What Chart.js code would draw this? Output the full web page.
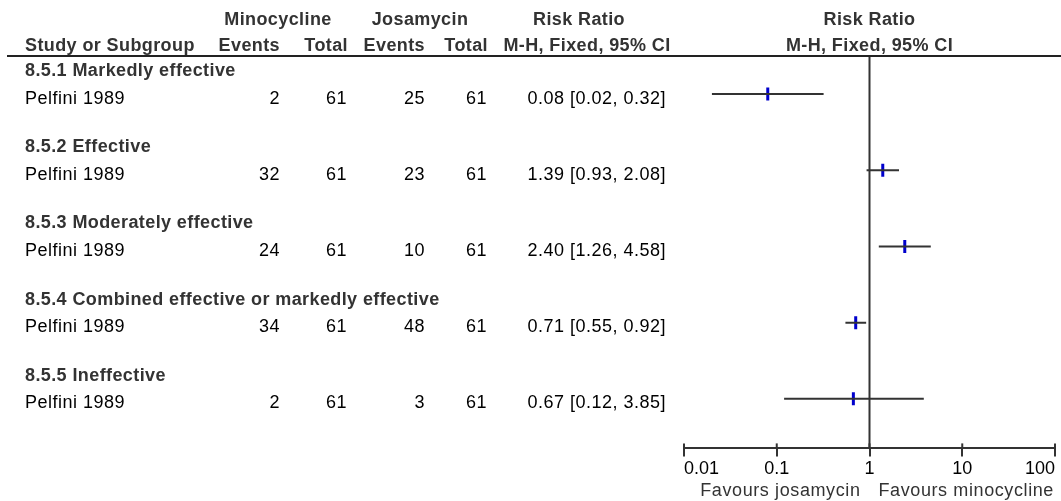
<!DOCTYPE html>
<html>
<head>
<meta charset="utf-8">
<script src="https://cdn.jsdelivr.net/npm/chart.js@4.4.1/dist/chart.umd.min.js"></script>
<style>
  body { margin: 0; background: #fff; }
  #wrap { width: 1061px; height: 501px; position: relative; }
</style>
</head>
<body>
<div id="wrap"><canvas id="forest"></canvas></div>
<script>
const groups = [
  "8.5.1 Markedly effective",
  "8.5.2 Effective",
  "8.5.3 Moderately effective",
  "8.5.4 Combined effective or markedly effective",
  "8.5.5 Ineffective",
];
const studies = ["Pelfini 1989", "Pelfini 1989", "Pelfini 1989", "Pelfini 1989", "Pelfini 1989"];
const minoEvents = [2, 32, 24, 34, 2];
const minoTotal = [61, 61, 61, 61, 61];
const josaEvents = [25, 23, 10, 48, 3];
const josaTotal = [61, 61, 61, 61, 61];
const riskRatio = [0.08, 1.39, 2.40, 0.71, 0.67];
const ciLow = [0.02, 0.93, 1.26, 0.55, 0.12];
const ciHigh = [0.32, 2.08, 4.58, 0.92, 3.85];
const tickValues = [0.01, 0.1, 1, 10, 100];
const tickLabels = ["0.01", "0.1", "1", "10", "100"];

const FONT = '"Liberation Sans", Arial, sans-serif';
const HEAD = "#333";

// one line dataset per confidence interval
const ciSets = riskRatio.map((_, i) => ({
  type: "line",
  data: [{ x: ciLow[i], y: i }, { x: ciHigh[i], y: i }],
  borderColor: "#333",
  borderWidth: 2,
  pointRadius: 0,
  fill: false,
}));

const tablePlugin = {
  id: "forestTable",
  beforeDatasetsDraw(chart) {
    const { ctx, chartArea, scales } = chart;
    const x1 = scales.x.getPixelForValue(1);
    ctx.save();
    ctx.strokeStyle = "#333";
    ctx.lineWidth = 2;
    ctx.beginPath();
    ctx.moveTo(x1, chartArea.top);
    ctx.lineTo(x1, chartArea.bottom);
    ctx.stroke();
    // upper half of the axis ticks
    tickValues.forEach((v) => {
      const px = scales.x.getPixelForValue(v);
      ctx.beginPath();
      ctx.moveTo(px, chartArea.bottom - 5);
      ctx.lineTo(px, chartArea.bottom);
      ctx.stroke();
    });
    ctx.restore();
  },
  afterDraw(chart) {
    const { ctx, chartArea, scales } = chart;
    const top = chartArea.top;
    ctx.save();

    // column headers
    ctx.font = "bold 18px " + FONT;
    ctx.letterSpacing = "0.4px";
    ctx.fillStyle = HEAD;
    ctx.textBaseline = "alphabetic";
    ctx.textAlign = "center";
    ctx.fillText("Minocycline", 278, top - 31);
    ctx.fillText("Josamycin", 420, top - 31);
    ctx.fillText("Risk Ratio", 579, top - 31);
    ctx.fillText("M-H, Fixed, 95% CI", 587, top - 5);
    const xc = scales.x.getPixelForValue(1);
    ctx.fillText("Risk Ratio", xc, top - 31);
    ctx.fillText("M-H, Fixed, 95% CI", xc, top - 5);
    ctx.textAlign = "left";
    ctx.fillText("Study or Subgroup", 25, top - 5);
    ctx.textAlign = "right";
    ctx.fillText("Events", 280, top - 5);
    ctx.fillText("Total", 348, top - 5);
    ctx.fillText("Events", 425, top - 5);
    ctx.fillText("Total", 488, top - 5);

    // rule under the header
    ctx.strokeStyle = "#222";
    ctx.lineWidth = 2;
    ctx.beginPath();
    ctx.moveTo(7, top);
    ctx.lineTo(chart.width, top);
    ctx.stroke();

    // rows
    groups.forEach((g, i) => {
      const py = scales.y.getPixelForValue(i);
      ctx.font = "bold 18px " + FONT;
      ctx.letterSpacing = "0.4px";
      ctx.fillStyle = HEAD;
      ctx.textAlign = "left";
      ctx.fillText(g, 25, py - 18);

      ctx.font = "18px " + FONT;
      ctx.letterSpacing = "0.5px";
      ctx.fillStyle = "#000";
      ctx.fillText(studies[i], 25, py + 9.5);
      ctx.textAlign = "right";
      ctx.fillText(String(minoEvents[i]), 280, py + 9.5);
      ctx.fillText(String(minoTotal[i]), 347, py + 9.5);
      ctx.fillText(String(josaEvents[i]), 425, py + 9.5);
      ctx.fillText(String(josaTotal[i]), 487, py + 9.5);
      const txt = riskRatio[i].toFixed(2) + " [" + ciLow[i].toFixed(2) + ", " + ciHigh[i].toFixed(2) + "]";
      ctx.fillText(txt, 666, py + 9.5);
    });

    // favours labels
    const x1 = scales.x.getPixelForValue(1);
    ctx.font = "18px " + FONT;
    ctx.letterSpacing = "0.6px";
    ctx.fillStyle = HEAD;
    ctx.textAlign = "right";
    ctx.fillText("Favours josamycin", x1 - 9, 496);
    ctx.textAlign = "left";
    ctx.fillText("Favours minocycline", x1 + 9, 496);
    ctx.restore();
  },
};

new Chart(document.getElementById("forest"), {
  type: "scatter",
  data: {
    datasets: [
      ...ciSets,
      {
        type: "scatter",
        data: riskRatio.map((v, i) => ({ x: v, y: i })),
        pointStyle: "line",
        rotation: 90,
        pointRadius: 6.5,
        borderWidth: 3,
        borderColor: "#0000cc",
        backgroundColor: "#0000cc",
      },
    ],
  },
  options: {
    responsive: true,
    maintainAspectRatio: false,
    animation: false,
    layout: { autoPadding: false, padding: { left: 684, right: 6, top: 56, bottom: 19 } },
    plugins: { legend: { display: false }, tooltip: { enabled: false } },
    scales: {
      x: {
        type: "logarithmic",
        min: 0.01,
        max: 100,
        position: "bottom",
        afterBuildTicks: (axis) => {
          axis.ticks = tickValues.map((v) => ({ value: v }));
        },
        border: { display: true, color: "#333", width: 2 },
        grid: { drawOnChartArea: false, drawTicks: true, tickLength: 8, color: "#333", lineWidth: 2 },
        ticks: {
          align: "inner",
          autoSkip: false,
          maxRotation: 0,
          padding: 2,
          color: "#000",
          font: { family: FONT, size: 18 },
          callback: (v) => tickLabels[tickValues.indexOf(v)] ?? "",
        },
      },
      y: {
        type: "linear",
        min: -0.5,
        max: 4.65,
        reverse: true,
        display: false,
      },
    },
  },
  plugins: [tablePlugin],
});
</script>
</body>
</html>
